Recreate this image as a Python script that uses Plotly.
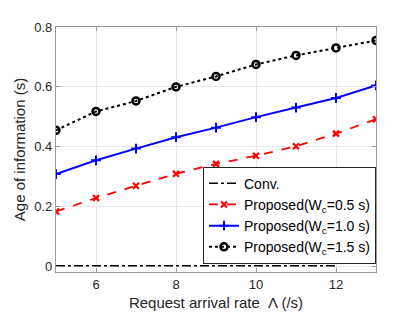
import plotly.graph_objects as go

x_vals = [5, 6, 7, 8, 9, 10, 11, 12, 13]
conv_x = [5, 6, 7, 8, 9, 10, 11, 12]
conv_y = [0.003, 0.003, 0.003, 0.003, 0.003, 0.003, 0.003, 0.003]
prop_05 = [0.184, 0.229, 0.270, 0.310, 0.343, 0.370, 0.402, 0.444, 0.492]
prop_10 = [0.309, 0.355, 0.394, 0.432, 0.464, 0.499, 0.531, 0.563, 0.605]
prop_15 = [0.455, 0.518, 0.553, 0.600, 0.635, 0.675, 0.705, 0.730, 0.755]

x_ticks = [6, 8, 10, 12]
y_ticks = [0, 0.2, 0.4, 0.6, 0.8]
y_tick_text = ["0", "0.2", "0.4", "0.6", "0.8"]

names = ["Conv.", "Proposed(W<sub>c</sub>=0.5 s)", "Proposed(W<sub>c</sub>=1.0 s)", "Proposed(W<sub>c</sub>=1.5 s)"]

FONT = "Liberation Sans, Arial, sans-serif"

fig = go.Figure()
fig.add_trace(go.Scatter(x=conv_x, y=conv_y, mode="lines", name=names[0],
                         line=dict(color="black", width=1.5, dash="dashdot")))
fig.add_trace(go.Scatter(x=x_vals, y=prop_05, mode="lines+markers", name=names[1],
                         line=dict(color="#ff0000", width=1.8, dash="dash"),
                         marker=dict(symbol="x-thin", size=6, color="#ff0000",
                                     line=dict(color="#ff0000", width=2.2))))
fig.add_trace(go.Scatter(x=x_vals, y=prop_10, mode="lines+markers", name=names[2],
                         line=dict(color="#0000ff", width=2),
                         marker=dict(symbol="cross-thin", size=7, color="#0000ff",
                                     line=dict(color="#0000ff", width=2))))
fig.add_trace(go.Scatter(x=x_vals, y=prop_15, mode="lines+markers", name=names[3],
                         line=dict(color="black", width=2, dash="dot"),
                         marker=dict(symbol="circle-open", size=7, color="black",
                                     line=dict(color="black", width=2.5))))

axis_common = dict(showgrid=True, gridcolor="#e6e6e6", gridwidth=1,
                   showline=True, linecolor="#9a9a9a", linewidth=1.2, mirror="ticks",
                   ticks="inside", ticklen=4, tickcolor="#9a9a9a",
                   tickfont=dict(family=FONT, size=13, color="#262626"),
                   zeroline=False)

fig.update_xaxes(range=[5, 13], tickvals=x_ticks,
                 title=dict(text="Request arrival rate  Λ (/s)",
                            font=dict(family=FONT, size=15, color="#262626"),
                            standoff=6),
                 **axis_common)
fig.update_yaxes(range=[-0.018, 0.8], tickvals=y_ticks, ticktext=y_tick_text,
                 title=dict(text="Age of information (s)",
                            font=dict(family=FONT, size=15, color="#262626"),
                            standoff=4),
                 **axis_common)

fig.update_layout(
    width=415, height=318,
    margin=dict(l=45, r=47, t=16, b=54),
    paper_bgcolor="white", plot_bgcolor="white",
    showlegend=True,
    legend=dict(x=1, xanchor="right", y=0.43, yanchor="top",
                bgcolor="white", bordercolor="#262626", borderwidth=1,
                font=dict(family=FONT, size=14, color="black"),
                itemwidth=30, tracegroupgap=0),
)

fig.write_html("out.html")
